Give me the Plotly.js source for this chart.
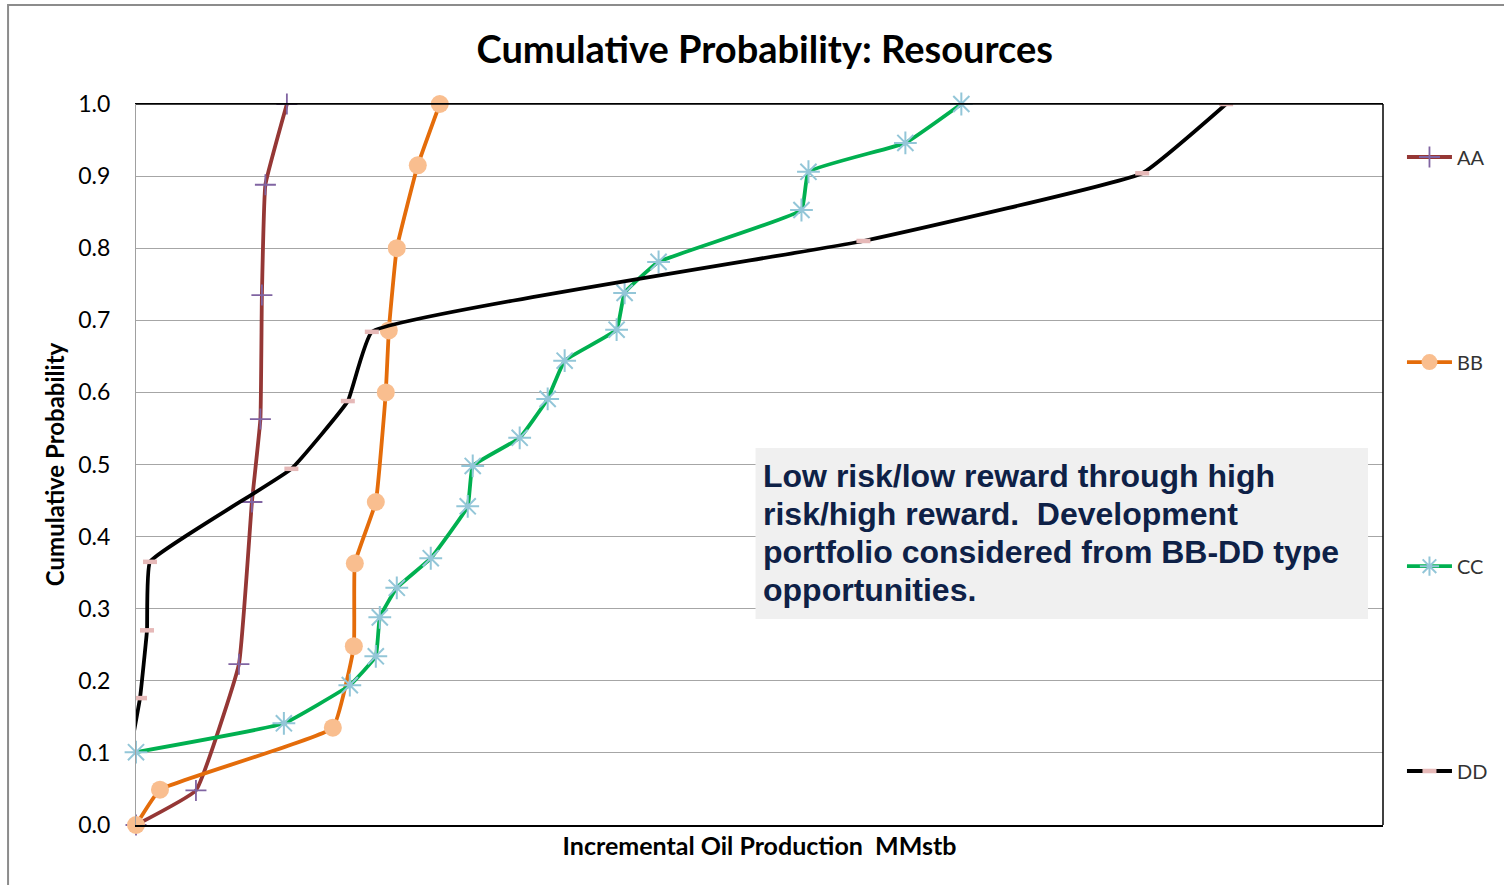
<!DOCTYPE html>
<html>
<head>
<meta charset="utf-8">
<script src="https://cdn.plot.ly/plotly-3.0.1.min.js"></script>
<style>
  html, body { margin: 0; padding: 0; background: #ffffff; }
  #chart { width: 1504px; height: 885px; }
</style>
</head>
<body>
<div id="chart"></div>
<script>
// Incremental oil production (relative units, axis carries no tick labels)
const aaX = [0, 6.0, 10.3, 11.6, 12.45, 12.6, 12.95, 15.1];
const aaY = [0, 0.048, 0.223, 0.448, 0.563, 0.735, 0.888, 1.0];

const bbX = [0, 2.4, 19.7, 21.8, 21.9, 24.0, 25.0, 25.3, 26.1, 28.2, 30.4];
const bbY = [0, 0.049, 0.135, 0.248, 0.363, 0.448, 0.600, 0.686, 0.800, 0.915, 1.0];

const ccX = [0, 14.8, 21.4, 24.0, 24.4, 26.1, 29.5, 33.2, 33.7, 38.4, 41.2, 42.9, 48.1, 48.9, 52.3, 66.6, 67.3, 77.0, 82.6];
const ccY = [0.101, 0.141, 0.194, 0.234, 0.288, 0.329, 0.370, 0.442, 0.498, 0.537, 0.591, 0.644, 0.687, 0.738, 0.781, 0.853, 0.906, 0.946, 1.0];

const ddX = [-0.6, 0.4, 1.1, 1.4, 15.55, 21.2, 23.6, 72.8, 100.7, 109.1];
const ddY = [0.10, 0.176, 0.270, 0.365, 0.494, 0.588, 0.684, 0.810, 0.904, 1.0];

const seriesNames = ["AA", "BB", "CC", "DD"];
const yTickVals = [0, 0.1, 0.2, 0.3, 0.4, 0.5, 0.6, 0.7, 0.8, 0.9, 1.0];
const yTickText = ["0.0", "0.1", "0.2", "0.3", "0.4", "0.5", "0.6", "0.7", "0.8", "0.9", "1.0"];

const chartTitle = "Cumulative Probability: Resources";
const xTitle = "Incremental Oil Production  MMstb";
const yTitle = "Cumulative Probability";
const noteLines = [
  "Low risk/low reward through high",
  "risk/high reward.  Development",
  "portfolio considered from BB-DD type",
  "opportunities."
];

const FONT = "Lato, 'Open Sans', sans-serif";
const NOTE_FONT = "'Liberation Sans', Arial, sans-serif";
const line = {shape: "spline", smoothing: 0.3, width: 3.8};

const traces = [
  {x: aaX, y: aaY, name: seriesNames[0], mode: "lines+markers", legend: "legend", cliponaxis: false,
   line: Object.assign({}, line, {color: "#953735"}),
   marker: {symbol: "cross-thin-open", size: 15, color: "#8064A2", line: {color: "#8064A2", width: 1.8}}},
  {x: bbX, y: bbY, name: seriesNames[1], mode: "lines+markers", legend: "legend2", cliponaxis: false,
   line: Object.assign({}, line, {color: "#E46C0A"}),
   marker: {symbol: "circle", size: 18, color: "#F9BE8F", line: {width: 0}}},
  {x: ccX, y: ccY, name: seriesNames[2], mode: "lines+markers", legend: "legend3", cliponaxis: false,
   line: Object.assign({}, line, {color: "#00B050"}),
   marker: {symbol: "asterisk-open", size: 19, color: "#93C6D8", line: {color: "#93C6D8", width: 2}}},
  {x: ddX, y: ddY, name: seriesNames[3], mode: "lines+markers", legend: "legend4", cliponaxis: true,
   line: Object.assign({}, line, {color: "#000000"}),
   marker: {symbol: "line-ew-open", size: 10, color: "#E6B9B8", line: {color: "#E6B9B8", width: 4.5}}}
];

const legendBase = {x: 1.0144, xanchor: "left", yanchor: "middle", bgcolor: "rgba(0,0,0,0)",
  borderwidth: 0, font: {family: FONT, size: 20, color: "#333333"}, itemwidth: 45, visible: true};

const annotations = noteLines.map((t, i) => ({
  xref: "paper", yref: "paper", x: 0.5016, y: 0.4840 - i * 0.0529, xanchor: "left", yanchor: "middle",
  text: "<b>" + t + "</b>", showarrow: false, align: "left",
  font: {family: NOTE_FONT, size: 32, color: "#0E2147"}
}));

const layout = {
  width: 1504, height: 885,
  showlegend: true,
  margin: {l: 136, r: 120, t: 104, b: 60},
  paper_bgcolor: "#ffffff", plot_bgcolor: "#ffffff",
  font: {family: FONT, color: "#000000"},
  title: {text: "<b>" + chartTitle + "</b>", font: {family: FONT, size: 38, color: "#000000"},
          x: 0.5085, xanchor: "center", xref: "container", y: 0.9435, yanchor: "middle", yref: "container"},
  xaxis: {range: [0, 124.8], showticklabels: false, ticks: "", showgrid: false, zeroline: false,
          showline: true, linecolor: "#000000", linewidth: 1.5, mirror: true,
          title: {text: "<b>" + xTitle + "</b>", font: {family: FONT, size: 25, color: "#000000"}, standoff: 12}},
  yaxis: {range: [0, 1.0], tickvals: yTickVals, ticktext: yTickText, ticks: "",
          tickfont: {family: FONT, size: 23, color: "#000000"}, ticklabelstandoff: 20,
          showgrid: true, gridcolor: "#A6A6A6", gridwidth: 1, zeroline: false,
          showline: true, linecolor: "#A0A0A0", linewidth: 1,
          title: {text: "<b>" + yTitle + "</b>", font: {family: FONT, size: 24, color: "#000000"}, standoff: 6}},
  legend: Object.assign({}, legendBase, {y: 0.9265}),
  legend2: Object.assign({}, legendBase, {y: 0.642}),
  legend3: Object.assign({}, legendBase, {y: 0.359}),
  legend4: Object.assign({}, legendBase, {y: 0.0749}),
  shapes: [
    {type: "line", xref: "paper", yref: "paper", x0: 1, x1: 1, y0: 0, y1: 1,
     line: {color: "#000000", width: 1.5}},
    {type: "line", xref: "paper", yref: "paper", x0: 0, x1: 1, y0: 1, y1: 1,
     line: {color: "#000000", width: 1.5}},
    {type: "rect", xref: "paper", yref: "paper", x0: 0.4968, x1: 0.988, y0: 0.2857, y1: 0.5229,
     line: {width: 0}, fillcolor: "#F0F0F0", layer: "above"},
    {type: "rect", xref: "paper", yref: "paper", x0: -0.1026, x1: 1.11, y0: -0.1, y1: 1.1373,
     line: {color: "#8C8C8C", width: 2}, fillcolor: "rgba(0,0,0,0)", layer: "below"}
  ],
  annotations: annotations
};

Plotly.newPlot("chart", traces, layout, {displayModeBar: false, staticPlot: true});
</script>
</body>
</html>
